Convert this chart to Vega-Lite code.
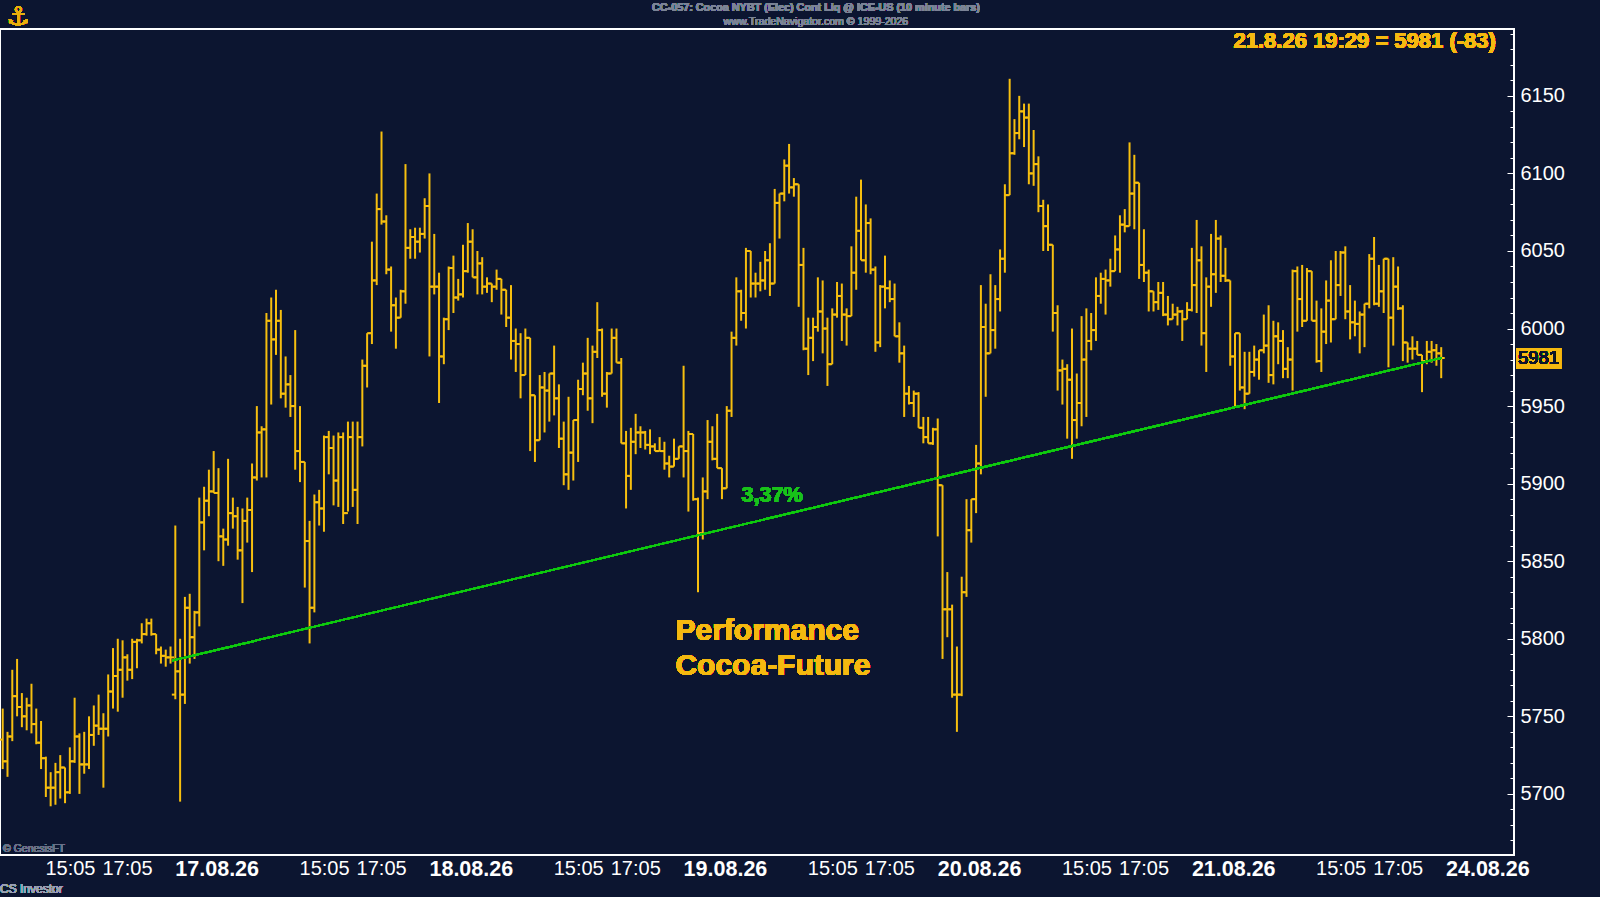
{
  "$schema": "https://vega.github.io/schema/vega-lite/v6.json",
  "width": 1514,
  "height": 826,
  "autosize": {"type": "none"},
  "padding": {"left": 0, "top": 29, "right": 86, "bottom": 42},
  "background": "#0c1530",
  "config": {
    "view": {"stroke": "#ffffff", "strokeWidth": 2},
    "font": "Liberation Sans"
  },
  "resolve": {"axis": {"y": "independent"}},
  "data": {
    "values": [
      {"i":0,"o":5735,"h":5755,"l":5716,"c":5721},
      {"i":1,"o":5721,"h":5740,"l":5711,"c":5737},
      {"i":2,"o":5737,"h":5780,"l":5734,"c":5763},
      {"i":3,"o":5763,"h":5787,"l":5750,"c":5756},
      {"i":4,"o":5756,"h":5765,"l":5743,"c":5750},
      {"i":5,"o":5750,"h":5762,"l":5741,"c":5757},
      {"i":6,"o":5757,"h":5771,"l":5739,"c":5745},
      {"i":7,"o":5745,"h":5755,"l":5732,"c":5733},
      {"i":8,"o":5733,"h":5747,"l":5716,"c":5723},
      {"i":9,"o":5723,"h":5724,"l":5698,"c":5704},
      {"i":10,"o":5704,"h":5714,"l":5692,"c":5704},
      {"i":11,"o":5704,"h":5720,"l":5693,"c":5714},
      {"i":12,"o":5714,"h":5725,"l":5697,"c":5717},
      {"i":13,"o":5717,"h":5717,"l":5694,"c":5701},
      {"i":14,"o":5701,"h":5730,"l":5700,"c":5721},
      {"i":15,"o":5721,"h":5762,"l":5720,"c":5737},
      {"i":16,"o":5737,"h":5739,"l":5700,"c":5719},
      {"i":17,"o":5719,"h":5740,"l":5713,"c":5719},
      {"i":18,"o":5719,"h":5750,"l":5716,"c":5738},
      {"i":19,"o":5738,"h":5757,"l":5731,"c":5744},
      {"i":20,"o":5744,"h":5764,"l":5738,"c":5742},
      {"i":21,"o":5742,"h":5752,"l":5704,"c":5742},
      {"i":22,"o":5742,"h":5777,"l":5737,"c":5766},
      {"i":23,"o":5766,"h":5794,"l":5755,"c":5776},
      {"i":24,"o":5776,"h":5800,"l":5753,"c":5780},
      {"i":25,"o":5780,"h":5799,"l":5762,"c":5788},
      {"i":26,"o":5788,"h":5790,"l":5773,"c":5780},
      {"i":27,"o":5780,"h":5800,"l":5774,"c":5798},
      {"i":28,"o":5798,"h":5800,"l":5781,"c":5799},
      {"i":29,"o":5799,"h":5810,"l":5797,"c":5803},
      {"i":30,"o":5803,"h":5813,"l":5802,"c":5810},
      {"i":31,"o":5810,"h":5813,"l":5802,"c":5803},
      {"i":32,"o":5803,"h":5803,"l":5790,"c":5793},
      {"i":33,"o":5793,"h":5795,"l":5784,"c":5789},
      {"i":34,"o":5789,"h":5793,"l":5782,"c":5788},
      {"i":35,"o":5788,"h":5795,"l":5784,"c":5788},
      {"i":36,"o":5764,"h":5873,"l":5761,"c":5779},
      {"i":37,"o":5779,"h":5800,"l":5695,"c":5764},
      {"i":38,"o":5764,"h":5827,"l":5758,"c":5820},
      {"i":39,"o":5820,"h":5829,"l":5784,"c":5801},
      {"i":40,"o":5801,"h":5818,"l":5787,"c":5817},
      {"i":41,"o":5817,"h":5891,"l":5808,"c":5875},
      {"i":42,"o":5875,"h":5898,"l":5857,"c":5889},
      {"i":43,"o":5889,"h":5909,"l":5879,"c":5895},
      {"i":44,"o":5895,"h":5921,"l":5894,"c":5894},
      {"i":45,"o":5894,"h":5910,"l":5850,"c":5866},
      {"i":46,"o":5866,"h":5871,"l":5847,"c":5864},
      {"i":47,"o":5864,"h":5916,"l":5860,"c":5881},
      {"i":48,"o":5881,"h":5891,"l":5871,"c":5879},
      {"i":49,"o":5879,"h":5885,"l":5851,"c":5857},
      {"i":50,"o":5857,"h":5884,"l":5823,"c":5876},
      {"i":51,"o":5876,"h":5891,"l":5862,"c":5883},
      {"i":52,"o":5883,"h":5913,"l":5843,"c":5904},
      {"i":53,"o":5904,"h":5950,"l":5902,"c":5933},
      {"i":54,"o":5933,"h":5937,"l":5904,"c":5935},
      {"i":55,"o":5935,"h":6010,"l":5904,"c":6005},
      {"i":56,"o":6005,"h":6020,"l":5951,"c":5993},
      {"i":57,"o":5993,"h":6025,"l":5983,"c":6005},
      {"i":58,"o":6005,"h":6012,"l":5955,"c":5958},
      {"i":59,"o":5958,"h":5982,"l":5949,"c":5964},
      {"i":60,"o":5964,"h":5970,"l":5943,"c":5950},
      {"i":61,"o":5950,"h":5999,"l":5909,"c":5921},
      {"i":62,"o":5921,"h":5950,"l":5901,"c":5914},
      {"i":63,"o":5914,"h":5914,"l":5833,"c":5863},
      {"i":64,"o":5863,"h":5876,"l":5797,"c":5820},
      {"i":65,"o":5820,"h":5893,"l":5817,"c":5888},
      {"i":66,"o":5888,"h":5896,"l":5873,"c":5884},
      {"i":67,"o":5884,"h":5931,"l":5869,"c":5930},
      {"i":68,"o":5930,"h":5934,"l":5906,"c":5923},
      {"i":69,"o":5923,"h":5931,"l":5886,"c":5902},
      {"i":70,"o":5902,"h":5933,"l":5885,"c":5930},
      {"i":71,"o":5930,"h":5933,"l":5874,"c":5881},
      {"i":72,"o":5881,"h":5940,"l":5882,"c":5930},
      {"i":73,"o":5930,"h":5940,"l":5885,"c":5896},
      {"i":74,"o":5896,"h":5940,"l":5874,"c":5930},
      {"i":75,"o":5930,"h":5980,"l":5924,"c":5976},
      {"i":76,"o":5976,"h":5997,"l":5962,"c":5997},
      {"i":77,"o":5997,"h":6056,"l":5990,"c":6031},
      {"i":78,"o":6031,"h":6087,"l":6028,"c":6077},
      {"i":79,"o":6077,"h":6127,"l":6067,"c":6069},
      {"i":80,"o":6069,"h":6073,"l":6035,"c":6038},
      {"i":81,"o":6038,"h":6040,"l":5998,"c":6015},
      {"i":82,"o":6015,"h":6020,"l":5987,"c":6007},
      {"i":83,"o":6007,"h":6025,"l":6007,"c":6024},
      {"i":84,"o":6024,"h":6106,"l":6016,"c":6052},
      {"i":85,"o":6052,"h":6064,"l":6045,"c":6059},
      {"i":86,"o":6059,"h":6065,"l":6045,"c":6056},
      {"i":87,"o":6056,"h":6065,"l":6049,"c":6061},
      {"i":88,"o":6061,"h":6084,"l":6058,"c":6079},
      {"i":89,"o":6079,"h":6100,"l":5982,"c":6027},
      {"i":90,"o":6027,"h":6061,"l":6022,"c":6027},
      {"i":91,"o":6027,"h":6036,"l":5952,"c":5982},
      {"i":92,"o":5982,"h":6007,"l":5977,"c":6006},
      {"i":93,"o":6006,"h":6040,"l":5999,"c":6039},
      {"i":94,"o":6039,"h":6047,"l":6010,"c":6020},
      {"i":95,"o":6020,"h":6032,"l":6018,"c":6022},
      {"i":96,"o":6022,"h":6054,"l":6020,"c":6037},
      {"i":97,"o":6037,"h":6068,"l":6036,"c":6056},
      {"i":98,"o":6056,"h":6064,"l":6033,"c":6033},
      {"i":99,"o":6033,"h":6050,"l":6022,"c":6042},
      {"i":100,"o":6042,"h":6046,"l":6022,"c":6027},
      {"i":101,"o":6027,"h":6033,"l":6023,"c":6029},
      {"i":102,"o":6029,"h":6029,"l":6017,"c":6027},
      {"i":103,"o":6027,"h":6038,"l":6025,"c":6032},
      {"i":104,"o":6032,"h":6032,"l":6009,"c":6025},
      {"i":105,"o":6025,"h":6025,"l":6001,"c":6007},
      {"i":106,"o":6007,"h":6028,"l":5980,"c":5992},
      {"i":107,"o":5992,"h":6000,"l":5972,"c":5990},
      {"i":108,"o":5990,"h":5997,"l":5955,"c":5970},
      {"i":109,"o":5970,"h":6000,"l":5970,"c":5994},
      {"i":110,"o":5994,"h":5994,"l":5921,"c":5957},
      {"i":111,"o":5957,"h":5957,"l":5914,"c":5928},
      {"i":112,"o":5928,"h":5970,"l":5928,"c":5962},
      {"i":113,"o":5962,"h":5972,"l":5933,"c":5960},
      {"i":114,"o":5960,"h":5971,"l":5940,"c":5971},
      {"i":115,"o":5971,"h":5989,"l":5944,"c":5955},
      {"i":116,"o":5955,"h":5964,"l":5923,"c":5929},
      {"i":117,"o":5929,"h":5940,"l":5899,"c":5906},
      {"i":118,"o":5906,"h":5956,"l":5896,"c":5920},
      {"i":119,"o":5920,"h":5941,"l":5902,"c":5941},
      {"i":120,"o":5941,"h":5967,"l":5914,"c":5961},
      {"i":121,"o":5961,"h":5978,"l":5957,"c":5971},
      {"i":122,"o":5971,"h":5994,"l":5947,"c":5955},
      {"i":123,"o":5955,"h":5989,"l":5939,"c":5985},
      {"i":124,"o":5985,"h":6017,"l":5981,"c":5999},
      {"i":125,"o":5999,"h":6000,"l":5956,"c":5958},
      {"i":126,"o":5958,"h":5972,"l":5949,"c":5971},
      {"i":127,"o":5971,"h":6000,"l":5971,"c":5994},
      {"i":128,"o":5994,"h":6000,"l":5978,"c":5978},
      {"i":129,"o":5978,"h":5981,"l":5926,"c":5926},
      {"i":130,"o":5926,"h":5934,"l":5884,"c":5905},
      {"i":131,"o":5905,"h":5936,"l":5896,"c":5927},
      {"i":132,"o":5927,"h":5945,"l":5919,"c":5933},
      {"i":133,"o":5933,"h":5937,"l":5923,"c":5933},
      {"i":134,"o":5933,"h":5934,"l":5922,"c":5925},
      {"i":135,"o":5925,"h":5935,"l":5919,"c":5924},
      {"i":136,"o":5924,"h":5926,"l":5921,"c":5921},
      {"i":137,"o":5921,"h":5930,"l":5921,"c":5921},
      {"i":138,"o":5921,"h":5927,"l":5909,"c":5913},
      {"i":139,"o":5913,"h":5918,"l":5904,"c":5911},
      {"i":140,"o":5911,"h":5929,"l":5911,"c":5916},
      {"i":141,"o":5916,"h":5924,"l":5916,"c":5924},
      {"i":142,"o":5924,"h":5976,"l":5904,"c":5921},
      {"i":143,"o":5921,"h":5934,"l":5882,"c":5932},
      {"i":144,"o":5932,"h":5932,"l":5889,"c":5890},
      {"i":145,"o":5890,"h":5891,"l":5830,"c":5868},
      {"i":146,"o":5868,"h":5904,"l":5864,"c":5895},
      {"i":147,"o":5895,"h":5941,"l":5890,"c":5927},
      {"i":148,"o":5927,"h":5937,"l":5915,"c":5916},
      {"i":149,"o":5916,"h":5945,"l":5910,"c":5910},
      {"i":150,"o":5910,"h":5910,"l":5890,"c":5897},
      {"i":151,"o":5897,"h":5950,"l":5897,"c":5947},
      {"i":152,"o":5947,"h":5998,"l":5943,"c":5994},
      {"i":153,"o":5994,"h":6033,"l":5989,"c":6024},
      {"i":154,"o":6024,"h":6025,"l":6005,"c":6010},
      {"i":155,"o":6010,"h":6052,"l":6000,"c":6050},
      {"i":156,"o":6050,"h":6050,"l":6020,"c":6029},
      {"i":157,"o":6029,"h":6036,"l":6020,"c":6029},
      {"i":158,"o":6029,"h":6043,"l":6024,"c":6031},
      {"i":159,"o":6031,"h":6050,"l":6025,"c":6044},
      {"i":160,"o":6044,"h":6055,"l":6021,"c":6029},
      {"i":161,"o":6029,"h":6090,"l":6029,"c":6081},
      {"i":162,"o":6081,"h":6087,"l":6058,"c":6087},
      {"i":163,"o":6087,"h":6109,"l":6082,"c":6105},
      {"i":164,"o":6105,"h":6119,"l":6087,"c":6091},
      {"i":165,"o":6091,"h":6097,"l":6085,"c":6093},
      {"i":166,"o":6093,"h":6093,"l":6014,"c":6041},
      {"i":167,"o":6041,"h":6052,"l":5986,"c":5987},
      {"i":168,"o":5987,"h":6007,"l":5970,"c":5994},
      {"i":169,"o":5994,"h":6007,"l":5979,"c":6001},
      {"i":170,"o":6001,"h":6033,"l":5998,"c":6011},
      {"i":171,"o":6011,"h":6031,"l":5984,"c":6000},
      {"i":172,"o":6000,"h":6007,"l":5963,"c":5977},
      {"i":173,"o":5977,"h":6013,"l":5977,"c":6009},
      {"i":174,"o":6009,"h":6030,"l":6007,"c":6021},
      {"i":175,"o":6021,"h":6029,"l":5992,"c":6009},
      {"i":176,"o":6009,"h":6013,"l":5989,"c":6008},
      {"i":177,"o":6008,"h":6053,"l":6008,"c":6036},
      {"i":178,"o":6036,"h":6085,"l":6025,"c":6063},
      {"i":179,"o":6063,"h":6096,"l":6044,"c":6044},
      {"i":180,"o":6044,"h":6080,"l":6036,"c":6068},
      {"i":181,"o":6068,"h":6071,"l":6035,"c":6038},
      {"i":182,"o":6038,"h":6040,"l":5985,"c":5991},
      {"i":183,"o":5991,"h":6028,"l":5988,"c":6027},
      {"i":184,"o":6027,"h":6047,"l":6013,"c":6026},
      {"i":185,"o":6026,"h":6031,"l":6017,"c":6019},
      {"i":186,"o":6019,"h":6029,"l":5995,"c":5995},
      {"i":187,"o":5995,"h":6004,"l":5978,"c":5984},
      {"i":188,"o":5984,"h":5989,"l":5943,"c":5958},
      {"i":189,"o":5958,"h":5963,"l":5951,"c":5952},
      {"i":190,"o":5952,"h":5960,"l":5943,"c":5958},
      {"i":191,"o":5958,"h":5959,"l":5936,"c":5936},
      {"i":192,"o":5936,"h":5943,"l":5926,"c":5930},
      {"i":193,"o":5930,"h":5943,"l":5926,"c":5926},
      {"i":194,"o":5926,"h":5936,"l":5925,"c":5935},
      {"i":195,"o":5935,"h":5942,"l":5866,"c":5899},
      {"i":196,"o":5899,"h":5899,"l":5787,"c":5819},
      {"i":197,"o":5819,"h":5843,"l":5801,"c":5819},
      {"i":198,"o":5819,"h":5822,"l":5762,"c":5764},
      {"i":199,"o":5764,"h":5795,"l":5740,"c":5764},
      {"i":200,"o":5764,"h":5840,"l":5763,"c":5830},
      {"i":201,"o":5830,"h":5890,"l":5827,"c":5870},
      {"i":202,"o":5870,"h":5890,"l":5862,"c":5890},
      {"i":203,"o":5890,"h":5925,"l":5881,"c":5913},
      {"i":204,"o":5913,"h":6028,"l":5906,"c":6001},
      {"i":205,"o":6001,"h":6016,"l":5956,"c":5984},
      {"i":206,"o":5984,"h":6035,"l":5984,"c":5999},
      {"i":207,"o":5999,"h":6028,"l":5987,"c":6019},
      {"i":208,"o":6019,"h":6051,"l":6011,"c":6045},
      {"i":209,"o":6045,"h":6093,"l":6036,"c":6086},
      {"i":210,"o":6086,"h":6161,"l":6086,"c":6113},
      {"i":211,"o":6113,"h":6135,"l":6112,"c":6126},
      {"i":212,"o":6126,"h":6150,"l":6122,"c":6140},
      {"i":213,"o":6140,"h":6145,"l":6117,"c":6136},
      {"i":214,"o":6136,"h":6145,"l":6093,"c":6100},
      {"i":215,"o":6100,"h":6128,"l":6092,"c":6106},
      {"i":216,"o":6106,"h":6111,"l":6075,"c":6079},
      {"i":217,"o":6079,"h":6083,"l":6050,"c":6066},
      {"i":218,"o":6066,"h":6080,"l":6050,"c":6054},
      {"i":219,"o":6054,"h":6054,"l":5998,"c":6010},
      {"i":220,"o":6010,"h":6015,"l":5960,"c":5973},
      {"i":221,"o":5973,"h":5980,"l":5951,"c":5974},
      {"i":222,"o":5974,"h":5977,"l":5929,"c":5967},
      {"i":223,"o":5967,"h":6000,"l":5916,"c":5941},
      {"i":224,"o":5941,"h":5971,"l":5929,"c":5952},
      {"i":225,"o":5952,"h":6008,"l":5937,"c":5980},
      {"i":226,"o":5980,"h":6013,"l":5943,"c":5992},
      {"i":227,"o":5992,"h":6010,"l":5986,"c":5999},
      {"i":228,"o":5999,"h":6033,"l":5992,"c":6021},
      {"i":229,"o":6021,"h":6036,"l":6016,"c":6032},
      {"i":230,"o":6032,"h":6038,"l":6009,"c":6031},
      {"i":231,"o":6031,"h":6045,"l":6027,"c":6037},
      {"i":232,"o":6037,"h":6060,"l":6037,"c":6051},
      {"i":233,"o":6051,"h":6073,"l":6036,"c":6067},
      {"i":234,"o":6067,"h":6077,"l":6062,"c":6066},
      {"i":235,"o":6066,"h":6120,"l":6066,"c":6087},
      {"i":236,"o":6087,"h":6112,"l":6064,"c":6094},
      {"i":237,"o":6094,"h":6094,"l":6032,"c":6041},
      {"i":238,"o":6041,"h":6064,"l":6030,"c":6036},
      {"i":239,"o":6036,"h":6038,"l":6011,"c":6024},
      {"i":240,"o":6024,"h":6024,"l":6011,"c":6017},
      {"i":241,"o":6017,"h":6030,"l":6012,"c":6023},
      {"i":242,"o":6023,"h":6030,"l":6008,"c":6009},
      {"i":243,"o":6009,"h":6021,"l":6002,"c":6006},
      {"i":244,"o":6006,"h":6016,"l":6006,"c":6009},
      {"i":245,"o":6009,"h":6014,"l":6002,"c":6011},
      {"i":246,"o":6011,"h":6012,"l":5992,"c":6006},
      {"i":247,"o":6006,"h":6017,"l":6006,"c":6012},
      {"i":248,"o":6012,"h":6052,"l":6011,"c":6028},
      {"i":249,"o":6028,"h":6070,"l":6010,"c":6044},
      {"i":250,"o":6044,"h":6053,"l":5989,"c":5997},
      {"i":251,"o":5997,"h":6033,"l":5972,"c":6027},
      {"i":252,"o":6027,"h":6061,"l":6014,"c":6035},
      {"i":253,"o":6035,"h":6070,"l":6023,"c":6058},
      {"i":254,"o":6058,"h":6060,"l":6030,"c":6034},
      {"i":255,"o":6034,"h":6052,"l":6030,"c":6031},
      {"i":256,"o":6031,"h":6031,"l":5976,"c":5982},
      {"i":257,"o":5982,"h":5997,"l":5950,"c":5997},
      {"i":258,"o":5997,"h":5997,"l":5960,"c":5962},
      {"i":259,"o":5962,"h":5985,"l":5948,"c":5958},
      {"i":260,"o":5958,"h":5985,"l":5958,"c":5972},
      {"i":261,"o":5972,"h":5989,"l":5969,"c":5980},
      {"i":262,"o":5980,"h":5986,"l":5967,"c":5986},
      {"i":263,"o":5986,"h":6009,"l":5984,"c":5989},
      {"i":264,"o":5989,"h":6015,"l":5965,"c":5970},
      {"i":265,"o":5970,"h":6005,"l":5964,"c":5995},
      {"i":266,"o":5995,"h":6004,"l":5977,"c":5992},
      {"i":267,"o":5992,"h":5999,"l":5968,"c":5974},
      {"i":268,"o":5974,"h":5988,"l":5968,"c":5980},
      {"i":269,"o":5980,"h":6038,"l":5960,"c":6037},
      {"i":270,"o":6037,"h":6040,"l":5998,"c":6019},
      {"i":271,"o":6019,"h":6041,"l":6001,"c":6005},
      {"i":272,"o":6005,"h":6039,"l":6005,"c":6037},
      {"i":273,"o":6037,"h":6037,"l":6005,"c":6005},
      {"i":274,"o":6005,"h":6018,"l":5978,"c":5979},
      {"i":275,"o":5979,"h":6013,"l":5972,"c":5998},
      {"i":276,"o":5998,"h":6031,"l":5990,"c":6018},
      {"i":277,"o":6018,"h":6044,"l":5991,"c":6006},
      {"i":278,"o":6006,"h":6050,"l":6006,"c":6028},
      {"i":279,"o":6028,"h":6050,"l":6021,"c":6049},
      {"i":280,"o":6049,"h":6053,"l":6006,"c":6011},
      {"i":281,"o":6011,"h":6028,"l":5993,"c":6004},
      {"i":282,"o":6004,"h":6018,"l":5995,"c":6003},
      {"i":283,"o":6003,"h":6011,"l":5984,"c":6009},
      {"i":284,"o":6009,"h":6016,"l":5988,"c":6016},
      {"i":285,"o":6016,"h":6048,"l":6013,"c":6045},
      {"i":286,"o":6045,"h":6059,"l":6015,"c":6016},
      {"i":287,"o":6016,"h":6041,"l":6014,"c":6024},
      {"i":288,"o":6024,"h":6045,"l":6010,"c":6045},
      {"i":289,"o":6045,"h":6045,"l":5975,"c":6007},
      {"i":290,"o":6007,"h":6046,"l":5989,"c":6027},
      {"i":291,"o":6027,"h":6040,"l":6012,"c":6013},
      {"i":292,"o":6013,"h":6015,"l":5979,"c":5991},
      {"i":293,"o":5991,"h":5991,"l":5978,"c":5987},
      {"i":294,"o":5987,"h":5995,"l":5980,"c":5987},
      {"i":295,"o":5987,"h":5992,"l":5983,"c":5983},
      {"i":296,"o":5983,"h":5983,"l":5959,"c":5979},
      {"i":297,"o":5979,"h":5992,"l":5977,"c":5985},
      {"i":298,"o":5985,"h":5992,"l":5978,"c":5986},
      {"i":299,"o":5986,"h":5990,"l":5976,"c":5984},
      {"i":300,"o":5984,"h":5988,"l":5968,"c":5981}
    ]
  },
  "encoding": {
    "x": {
      "field": "i",
      "type": "quantitative",
      "scale": {"domain": [-0.563, 315.18], "nice": false, "zero": false},
      "axis": {
        "orient": "bottom",
        "title": null,
        "grid": false,
        "domain": false,
        "ticks": false,
        "tickSize": 0,
        "values": [8.8, 20.7, 35.9, 61.8, 73.7, 88.9, 114.8, 126.7, 141.9, 167.8, 179.7, 194.9, 220.8, 232.7, 247.9, 273.8, 285.7, 300.9],
        "labelExpr": "indexof([35.9,88.9,141.9,194.9,247.9,300.9], datum.value) >= 0 ? ['17.08.26','18.08.26','19.08.26','20.08.26','21.08.26','24.08.26'][indexof([35.9,88.9,141.9,194.9,247.9,300.9], datum.value)] : (indexof([8.8,61.8,114.8,167.8,220.8,273.8], datum.value) >= 0 ? '15:05' : '17:05')",
        "labelAlign": "left",
        "labelBaseline": "top",
        "labelPadding": 3,
        "labelFont": "Liberation Sans",
        "labelFontSize": {"condition": {"test": "indexof([35.9,88.9,141.9,194.9,247.9,300.9], datum.value) >= 0", "value": 21.5}, "value": 20},
        "labelColor": "#ffffff",
        "labelFontWeight": {"condition": {"test": "indexof([35.9,88.9,141.9,194.9,247.9,300.9], datum.value) >= 0", "value": "bold"}, "value": "normal"},
        "labelFlush": false,
        "labelOverlap": false
      }
    }
  },
  "layer": [
    {
      "mark": {"type": "rule", "color": "#f7bf0f", "strokeWidth": 2},
      "encoding": {
        "y": {
          "field": "l",
          "type": "quantitative",
          "scale": {"domain": [5660.6, 6193.1], "nice": false, "zero": false},
          "axis": {
            "orient": "right",
            "title": null,
            "grid": false,
            "domain": false,
            "format": "d",
            "values": [5700, 5750, 5800, 5850, 5900, 5950, 6000, 6050, 6100, 6150],
            "tickColor": "#ffffff",
            "tickWidth": 1,
            "tickSize": -7,
            "labelPadding": 13,
            "labelFont": "Liberation Sans",
            "labelFontSize": 20,
            "labelColor": "#ffffff",
            "labelBaseline": "middle",
            "labelOverlap": false,
            "labelFlush": false
          }
        },
        "y2": {"field": "h"}
      }
    },
    {
      "mark": {"type": "rule", "color": "#f7bf0f", "strokeWidth": 2, "xOffset": -3.5, "x2Offset": 0},
      "encoding": {
        "x2": {"field": "i"},
        "y": {
          "field": "o",
          "type": "quantitative",
          "axis": {
            "orient": "right",
            "title": null,
            "grid": false,
            "domain": false,
            "labels": false,
            "values": [5670,5680,5690,5710,5720,5730,5740,5760,5770,5780,5790,5810,5820,5830,5840,5860,5870,5880,5890,5910,5920,5930,5940,5960,5970,5980,5990,6010,6020,6030,6040,6060,6070,6080,6090,6110,6120,6130,6140,6160,6170,6180,6190],
            "tickColor": "#ffffff",
            "tickWidth": 1,
            "tickSize": -4
          }
        }
      }
    },
    {
      "mark": {"type": "rule", "color": "#f7bf0f", "strokeWidth": 2, "xOffset": 0, "x2Offset": 3.5},
      "encoding": {"x2": {"field": "i"}, "y": {"field": "c", "type": "quantitative", "axis": null}}
    },
    {
      "mark": {"type": "rule", "color": "#10c810", "strokeWidth": 1.6},
      "encoding": {
        "x": {"datum": 35.4, "type": "quantitative"},
        "x2": {"datum": 300},
        "y": {"datum": 5786, "type": "quantitative", "axis": null},
        "y2": {"datum": 5981}
      }
    },
    {
      "mark": {"type": "text", "text": "3,37%", "color": "#19c219", "font": "Liberation Sans", "fontSize": 21.5, "fontWeight": "bold", "align": "left", "baseline": "middle"},
      "encoding": {"x": {"datum": 154.1, "type": "quantitative"}, "y": {"datum": 5892, "type": "quantitative", "axis": null}}
    },
    {
      "mark": {"type": "text", "text": "Performance", "color": "#f5b90f", "font": "Liberation Sans", "fontSize": 30, "fontWeight": "bold", "align": "left", "baseline": "middle"},
      "encoding": {"x": {"datum": 140.3, "type": "quantitative"}, "y": {"datum": 5805.3, "type": "quantitative", "axis": null}}
    },
    {
      "mark": {"type": "text", "text": "Cocoa-Future", "color": "#f5b90f", "font": "Liberation Sans", "fontSize": 30, "fontWeight": "bold", "align": "left", "baseline": "middle"},
      "encoding": {"x": {"datum": 140.3, "type": "quantitative"}, "y": {"datum": 5782.3, "type": "quantitative", "axis": null}}
    },
    {
      "mark": {"type": "text", "text": "21.8.26 19:29 = 5981 (-83)", "color": "#f5b90f", "font": "Liberation Sans", "fontSize": 22, "fontWeight": "bold", "align": "right", "baseline": "middle"},
      "encoding": {"x": {"datum": 311.4, "type": "quantitative"}, "y": {"datum": 6185.5, "type": "quantitative", "axis": null}}
    },
    {
      "mark": {"type": "text", "text": "CC-057:  Cocoa NYBT (Elec) Cont Liq @ ICE-US  (10 minute bars)", "color": "#7c8497", "font": "Liberation Sans", "fontSize": 10.8, "fontWeight": "bold", "align": "center", "baseline": "middle"},
      "encoding": {"x": {"datum": 169.6, "type": "quantitative"}, "y": {"datum": 6206.5, "type": "quantitative", "axis": null}}
    },
    {
      "mark": {"type": "text", "text": "www.TradeNavigator.com © 1999-2026", "color": "#7c8497", "font": "Liberation Sans", "fontSize": 10.6, "align": "center", "baseline": "middle"},
      "encoding": {"x": {"datum": 169.6, "type": "quantitative"}, "y": {"datum": 6197.3, "type": "quantitative", "axis": null}}
    },
    {
      "mark": {"type": "rect", "color": "#f5b90f"},
      "encoding": {
        "x": {"datum": 315.6, "type": "quantitative"},
        "x2": {"datum": 325.0},
        "y": {"datum": 5974, "type": "quantitative", "axis": null},
        "y2": {"datum": 5987.5}
      }
    },
    {
      "mark": {"type": "text", "text": "5981", "color": "#0c1530", "font": "Liberation Sans", "fontSize": 18.5, "align": "center", "baseline": "middle"},
      "encoding": {"x": {"datum": 320.3, "type": "quantitative"}, "y": {"datum": 5981, "type": "quantitative", "axis": null}}
    },
    {
      "mark": {"type": "text", "text": "© GenesisFT", "color": "#6a7288", "font": "Liberation Sans", "fontSize": 10.5, "align": "left", "baseline": "middle"},
      "encoding": {"x": {"datum": 0.06, "type": "quantitative"}, "y": {"datum": 5664.5, "type": "quantitative", "axis": null}}
    },
    {
      "mark": {"type": "text", "text": "CS Investor", "color": "#9aa1b3", "font": "Liberation Sans", "fontSize": 12, "align": "left", "baseline": "middle"},
      "encoding": {"x": {"datum": -0.563, "type": "quantitative"}, "y": {"datum": 5638.7, "type": "quantitative", "axis": null}}
    },
    {
      "mark": {"type": "text", "text": "⚓", "color": "#e8b10a", "font": "DejaVu Sans", "fontSize": 26, "align": "center", "baseline": "middle"},
      "encoding": {"x": {"datum": 3.2, "type": "quantitative"}, "y": {"datum": 6201, "type": "quantitative", "axis": null}}
    }
  ]
}
